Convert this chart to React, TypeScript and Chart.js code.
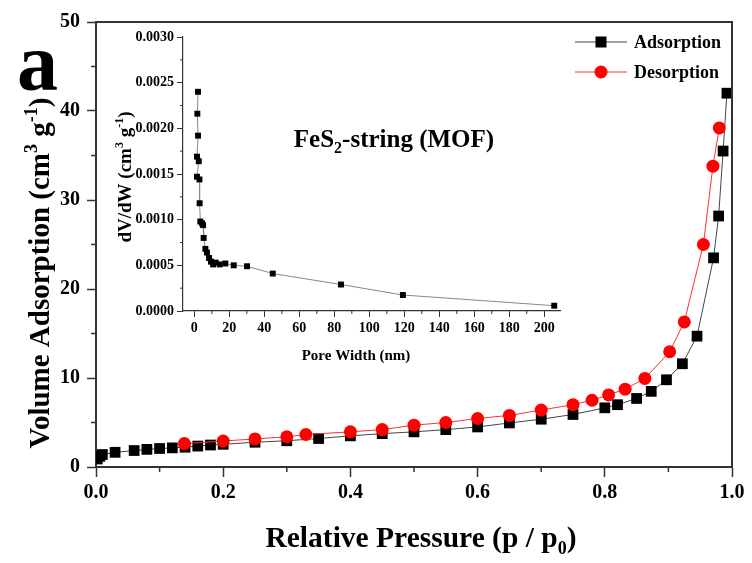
import { useEffect, useRef } from "react";
import { Chart, registerables } from "chart.js";

Chart.register(...registerables);

// ---------- data ----------
const adsorptionP = [0.002, 0.006, 0.01, 0.03, 0.06, 0.08, 0.1, 0.12, 0.14, 0.16, 0.18, 0.2, 0.25, 0.3, 0.35, 0.4, 0.45, 0.5, 0.55, 0.6, 0.65, 0.7, 0.75, 0.8, 0.82, 0.85, 0.873, 0.897, 0.922, 0.945, 0.971, 0.979, 0.986, 0.992];
const adsorptionV = [0.9, 1.2, 1.4, 1.65, 1.85, 1.98, 2.08, 2.15, 2.22, 2.35, 2.47, 2.55, 2.78, 2.95, 3.2, 3.5, 3.75, 3.95, 4.2, 4.5, 4.95, 5.37, 5.9, 6.65, 7.0, 7.7, 8.5, 9.8, 11.6, 14.7, 23.5, 28.2, 35.5, 42.0];

const desorptionP = [0.139, 0.2, 0.25, 0.3, 0.33, 0.4, 0.45, 0.5, 0.55, 0.6, 0.65, 0.7, 0.75, 0.78, 0.806, 0.832, 0.863, 0.902, 0.925, 0.955, 0.97, 0.98];
const desorptionV = [2.63, 2.92, 3.15, 3.4, 3.65, 3.95, 4.2, 4.7, 5.0, 5.45, 5.8, 6.4, 7.0, 7.5, 8.1, 8.75, 9.95, 12.95, 16.3, 25.0, 33.8, 38.1];

const poreWidth = [2.1, 1.7, 2.1, 1.5, 2.5, 1.5, 2.9, 3.0, 3.4, 4.4, 5.0, 5.3, 6.3, 7.2, 8.4, 9.5, 10.7, 12.2, 14.5, 17.7, 22.5, 30.1, 44.8, 83.8, 119.2, 205.7];
const dVdW = [0.0024, 0.00216, 0.00192, 0.00169, 0.00164, 0.00147, 0.00144, 0.00118, 0.00098, 0.00096, 0.00094, 0.0008, 0.00068, 0.00064, 0.00058, 0.00054, 0.00051, 0.00053, 0.00051, 0.00052, 0.0005, 0.00049, 0.00041, 0.00029, 0.000175, 0.000058];

const mainXTicks = [0, 0.2, 0.4, 0.6, 0.8, 1.0];
const mainXMinor = [0.1, 0.3, 0.5, 0.7, 0.9];
const mainYTicks = [0, 10, 20, 30, 40, 50];
const mainYMinor = [5, 15, 25, 35, 45];
const insetXTicks = [0, 20, 40, 60, 80, 100, 120, 140, 160, 180, 200];
const insetXMinor = [10, 30, 50, 70, 90, 110, 130, 150, 170, 190];
const insetYTicks = [0, 0.0005, 0.001, 0.0015, 0.002, 0.0025, 0.003];
const insetYMinor = [0.00025, 0.00075, 0.00125, 0.00175, 0.00225, 0.00275];

const seriesNames = ["Adsorption", "Desorption"];

const FONT = '"Liberation Serif", "Times New Roman", serif';

type Seg = { t: string; s?: "sup" | "sub" };

function drawRich(ctx: CanvasRenderingContext2D, segs: Seg[], cx: number, cy: number, size: number, rotate: boolean) {
  ctx.save();
  ctx.translate(cx, cy);
  if (rotate) ctx.rotate(-Math.PI / 2);
  const main = `bold ${size}px ${FONT}`;
  const small = `bold ${Math.round(size * 0.62)}px ${FONT}`;
  let total = 0;
  const widths = segs.map((sg) => {
    ctx.font = sg.s ? small : main;
    const w = ctx.measureText(sg.t).width;
    total += w;
    return w;
  });
  let x = -total / 2;
  ctx.textBaseline = "alphabetic";
  ctx.textAlign = "left";
  ctx.fillStyle = "#000";
  segs.forEach((sg, i) => {
    ctx.font = sg.s ? small : main;
    const dy = sg.s === "sup" ? -size * 0.42 : sg.s === "sub" ? size * 0.25 : 0;
    ctx.fillText(sg.t, x, dy);
    x += widths[i];
  });
  ctx.restore();
}

function minorTicks(ctx: CanvasRenderingContext2D, chart: any, xs: number[], ys: number[], len: number, color: string, width: number) {
  const xs_ = chart.scales.x;
  const ys_ = chart.scales.y;
  const area = chart.chartArea;
  ctx.save();
  ctx.strokeStyle = color;
  ctx.lineWidth = width;
  ctx.beginPath();
  xs.forEach((v) => {
    const px = xs_.getPixelForValue(v);
    ctx.moveTo(px, area.bottom);
    ctx.lineTo(px, area.bottom + len);
  });
  ys.forEach((v) => {
    const py = ys_.getPixelForValue(v);
    ctx.moveTo(area.left, py);
    ctx.lineTo(area.left - len, py);
  });
  ctx.stroke();
  ctx.restore();
}

const mainDecor = {
  id: "mainDecor",
  afterDraw(chart: any) {
    const ctx: CanvasRenderingContext2D = chart.ctx;
    const a = chart.chartArea;
    ctx.save();
    ctx.strokeStyle = "#333";
    ctx.lineWidth = 2;
    ctx.beginPath();
    ctx.moveTo(a.left, a.top);
    ctx.lineTo(a.right, a.top);
    ctx.lineTo(a.right, a.bottom);
    ctx.stroke();
    ctx.restore();
    minorTicks(ctx, chart, mainXMinor, mainYMinor, 5, "#333", 1.5);

    // legend
    chart.data.datasets.forEach((ds: any, i: number) => {
      const y = 42 + i * 30;
      ctx.save();
      ctx.strokeStyle = ds.borderColor;
      ctx.lineWidth = 1;
      ctx.beginPath();
      ctx.moveTo(575, y);
      ctx.lineTo(627, y);
      ctx.stroke();
      ctx.fillStyle = ds.pointBackgroundColor;
      if (ds.pointStyle === "rect") {
        ctx.fillRect(601 - 5.5, y - 5.5, 11, 11);
      } else {
        ctx.beginPath();
        ctx.arc(601, y, 6.5, 0, Math.PI * 2);
        ctx.fill();
      }
      ctx.fillStyle = "#000";
      ctx.font = `bold 18px ${FONT}`;
      ctx.textBaseline = "middle";
      ctx.textAlign = "left";
      ctx.fillText(ds.label, 634, y + 1);
      ctx.restore();
    });

    // panel letter
    ctx.save();
    ctx.fillStyle = "#000";
    ctx.font = `bold 82px ${FONT}`;
    ctx.textBaseline = "alphabetic";
    ctx.textAlign = "left";
    ctx.fillText("a", 17, 90);
    ctx.restore();

    drawRich(ctx, [{ t: "Volume Adsorption (cm" }, { t: "3", s: "sup" }, { t: " g" }, { t: "-1", s: "sup" }, { t: ")" }], 49, 273, 29, true);
    drawRich(ctx, [{ t: "Relative Pressure (p / p" }, { t: "0", s: "sub" }, { t: ")" }], 421, 547, 29.5, false);
  },
};

const insetDecor = {
  id: "insetDecor",
  afterDraw(chart: any) {
    const ctx: CanvasRenderingContext2D = chart.ctx;
    minorTicks(ctx, chart, insetXMinor, insetYMinor, 3, "#333", 1);
    drawRich(ctx, [{ t: "dV/dW (cm" }, { t: "3", s: "sup" }, { t: " g" }, { t: "-1", s: "sup" }, { t: ")" }], 31, 152, 19, true);
    drawRich(ctx, [{ t: "Pore Width (nm)" }], 256, 335, 15, false);
    drawRich(ctx, [{ t: "FeS" }, { t: "2", s: "sub" }, { t: "-string (MOF)" }], 294, 122, 25, false);
  },
};

export default function App() {
  const mainRef = useRef<HTMLCanvasElement>(null);
  const insetRef = useRef<HTMLCanvasElement>(null);

  useEffect(() => {
    const tickFont = { family: FONT, size: 20, weight: "bold" as const };
    const main = new Chart(mainRef.current!, {
      type: "line",
      data: {
        datasets: [
          {
            label: seriesNames[0],
            data: adsorptionP.map((x, i) => ({ x, y: adsorptionV[i] })),
            borderColor: "#444",
            borderWidth: 1,
            pointStyle: "rect",
            pointRadius: 7.6,
            pointBorderWidth: 0,
            pointBackgroundColor: "#000",
            pointBorderColor: "#000",
            order: 1,
          } as any,
          {
            label: seriesNames[1],
            data: desorptionP.map((x, i) => ({ x, y: desorptionV[i] })),
            borderColor: "#ff3030",
            borderWidth: 1,
            pointStyle: "circle",
            pointRadius: 6.5,
            pointBorderWidth: 0,
            pointBackgroundColor: "#ff0000",
            pointBorderColor: "#ff0000",
            order: 0,
          } as any,
        ],
      },
      options: {
        animation: false,
        responsive: false,
        maintainAspectRatio: false,
        layout: { padding: { top: 22, right: 20, left: 0, bottom: 0 } },
        plugins: { legend: { display: false }, tooltip: { enabled: false } },
        scales: {
          x: {
            type: "linear",
            min: 0,
            max: 1,
            afterFit: (s: any) => { s.height = 96; },
            afterBuildTicks: (s: any) => { s.ticks = mainXTicks.map((v) => ({ value: v })); },
            ticks: { font: tickFont, color: "#000", padding: 4, callback: (v: any) => Number(v).toFixed(1), maxRotation: 0 },
            grid: { drawOnChartArea: false, drawTicks: true, tickLength: 10, tickColor: "#333", tickWidth: 1.5 },
            border: { display: true, color: "#333", width: 2 },
          },
          y: {
            type: "linear",
            min: 0,
            max: 50,
            afterFit: (s: any) => { s.width = 96; },
            afterBuildTicks: (s: any) => { s.ticks = mainYTicks.map((v) => ({ value: v })); },
            ticks: { font: tickFont, color: "#000", padding: 7, callback: (v: any) => String(v) },
            grid: { drawOnChartArea: false, drawTicks: true, tickLength: 9, tickColor: "#333", tickWidth: 1.5 },
            border: { display: true, color: "#333", width: 2 },
          },
        },
      },
      plugins: [mainDecor],
    });

    const insetFont = { family: FONT, size: 14, weight: "bold" as const };
    const inset = new Chart(insetRef.current!, {
      type: "line",
      data: {
        datasets: [
          {
            label: "Pore size distribution",
            data: poreWidth.map((x, i) => ({ x, y: dVdW[i] })),
            borderColor: "#888",
            borderWidth: 1,
            pointStyle: "rect",
            pointRadius: 4.2,
            pointBorderWidth: 0,
            pointBackgroundColor: "#000",
          } as any,
        ],
      },
      options: {
        animation: false,
        responsive: false,
        maintainAspectRatio: false,
        layout: { padding: { top: 12, right: 10, left: 0, bottom: 0 } },
        plugins: { legend: { display: false }, tooltip: { enabled: false } },
        scales: {
          x: {
            type: "linear",
            min: -6.5,
            max: 209,
            afterFit: (s: any) => { s.height = 59; },
            afterBuildTicks: (s: any) => { s.ticks = insetXTicks.map((v) => ({ value: v })); },
            ticks: { font: insetFont, color: "#000", padding: 3, callback: (v: any) => String(v), maxRotation: 0, autoSkip: false },
            grid: { drawOnChartArea: false, drawTicks: true, tickLength: 6, tickColor: "#333", tickWidth: 1 },
            border: { display: true, color: "#333", width: 1.2 },
          },
          y: {
            type: "linear",
            min: 0,
            max: 0.003,
            afterFit: (s: any) => { s.width = 83; },
            afterBuildTicks: (s: any) => { s.ticks = insetYTicks.map((v) => ({ value: v })); },
            ticks: { font: insetFont, color: "#000", padding: 3, callback: (v: any) => Number(v).toFixed(4), autoSkip: false },
            grid: { drawOnChartArea: false, drawTicks: true, tickLength: 6, tickColor: "#333", tickWidth: 1 },
            border: { display: true, color: "#333", width: 1.2 },
          },
        },
      },
      plugins: [insetDecor],
    });

    return () => {
      main.destroy();
      inset.destroy();
    };
  }, []);

  return (
    <div style={{ position: "fixed", left: 0, top: 0, width: 752, height: 563, background: "#fff" }}>
      <canvas ref={mainRef} width={752} height={563} style={{ position: "absolute", left: 0, top: 0, width: 752, height: 563 }} />
      <canvas ref={insetRef} width={470} height={345} style={{ position: "absolute", left: 100, top: 25, width: 470, height: 345 }} />
    </div>
  );
}
